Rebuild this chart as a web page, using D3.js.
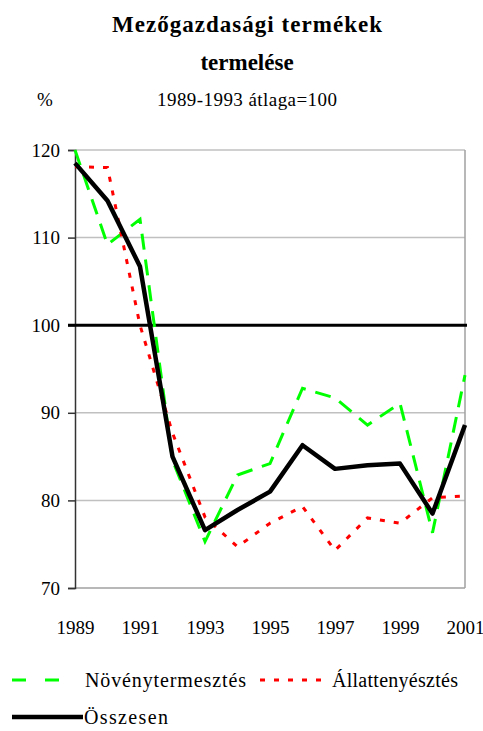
<!DOCTYPE html>
<html>
<head>
<meta charset="utf-8">
<script src="https://cdn.jsdelivr.net/npm/d3@7"></script>
<style>
  body { margin: 0; background: #fff; }
  svg text { font-family: "Times New Roman", "Liberation Serif", Tinos, "DejaVu Serif", "Noto Serif", serif !important; fill: #000; }
</style>
</head>
<body>
<div id="chart"></div>
<script>
// data
var years = [1989, 1990, 1991, 1992, 1993, 1994, 1995, 1996, 1997, 1998, 1999, 2000, 2001];
var novenyValues = [120, 109.2, 112.1, 84.6, 75.3, 82.9, 84.2, 92.8, 91.7, 88.6, 91.1, 76.3, 94.3];
var allatValues = [118.1, 118, 100, 87.7, 78.1, 74.7, 77.4, 79.3, 74.3, 78, 77.4, 80.3, 80.5];
var osszesenValues = [118.5, 114.2, 106.7, 85, 76.6, 78.9, 81, 86.3, 83.6, 84, 84.2, 78.5, 88.6];
var yTicks = [70, 80, 90, 100, 110, 120];
var xTickYears = [1989, 1991, 1993, 1995, 1997, 1999, 2001];
var refValue = 100;

var width = 483, height = 731;
var margin = {top: 150, right: 18, bottom: 143, left: 75};

var svg = d3.select("#chart").append("svg")
    .attr("width", width)
    .attr("height", height);

var x = d3.scaleLinear()
    .domain([1989, 2001])
    .range([margin.left, width - margin.right]);

var y = d3.scaleLinear()
    .domain([70, 120])
    .range([height - margin.bottom, margin.top]);

// titles
svg.append("text").attr("x", 247).attr("y", 32)
    .attr("text-anchor", "middle").style("font-size", "23px").style("font-weight", "bold")
    .attr("textLength", 270)
    .text("Mezőgazdasági termékek");
svg.append("text").attr("x", 247).attr("y", 70)
    .attr("text-anchor", "middle").style("font-size", "23px").style("font-weight", "bold")
    .text("termelése");
svg.append("text").attr("x", 247).attr("y", 106)
    .attr("text-anchor", "middle").style("font-size", "19px")
    .attr("textLength", 180)
    .text("1989-1993 átlaga=100");
svg.append("text").attr("x", 45).attr("y", 106)
    .attr("text-anchor", "middle").style("font-size", "19px")
    .text("%");

// grid lines
svg.append("g").selectAll("line")
    .data(yTicks.filter(function (d) { return d !== 70 && d !== refValue; }))
    .enter().append("line")
    .attr("x1", x(1989)).attr("x2", x(2001))
    .attr("y1", function (d) { return y(d); })
    .attr("y2", function (d) { return y(d); })
    .attr("stroke", "#c0c0c0")
    .attr("stroke-width", 1.5);

// right border + bottom
svg.append("line")
    .attr("x1", x(2001)).attr("x2", x(2001))
    .attr("y1", y(120)).attr("y2", y(70))
    .attr("stroke", "#a0a0a0").attr("stroke-width", 1.5);
svg.append("line")
    .attr("x1", x(1989)).attr("x2", x(2001))
    .attr("y1", y(70)).attr("y2", y(70))
    .attr("stroke", "#a0a0a0").attr("stroke-width", 1.5);

// y axis
var yAxis = svg.append("g")
    .attr("transform", "translate(" + x(1989) + ",0)")
    .call(d3.axisLeft(y).tickValues(yTicks).tickSize(7).tickPadding(8).tickFormat(d3.format("d")));
yAxis.attr("font-family", null);
yAxis.select(".domain").attr("stroke", "#333").attr("stroke-width", 1.5);
yAxis.selectAll(".tick line").attr("stroke", "#333").attr("stroke-width", 1.5);
yAxis.selectAll("text").style("font-size", "19px");

// x axis labels (no ticks)
var xAxis = svg.append("g")
    .attr("transform", "translate(0," + y(70) + ")")
    .call(d3.axisBottom(x).tickValues(xTickYears).tickSize(0).tickPadding(33).tickFormat(d3.format("d")));
xAxis.attr("font-family", null);
xAxis.select(".domain").remove();
xAxis.selectAll("text").style("font-size", "19px");

// 100 reference line
svg.append("line")
    .attr("x1", x(1989) - 7).attr("x2", x(2001) + 2)
    .attr("y1", y(refValue)).attr("y2", y(refValue))
    .attr("stroke", "#000").attr("stroke-width", 3);

var line = d3.line()
    .x(function (d, i) { return x(years[i]); })
    .y(function (d) { return y(d); });

svg.append("path").datum(novenyValues)
    .attr("d", line).attr("fill", "none")
    .attr("stroke", "#00ff00").attr("stroke-width", 3)
    .attr("stroke-dasharray", "16,10");

svg.append("path").datum(allatValues)
    .attr("d", line).attr("fill", "none")
    .attr("stroke", "#ff0000").attr("stroke-width", 3)
    .attr("stroke-dasharray", "5,9");

svg.append("path").datum(osszesenValues)
    .attr("d", line).attr("fill", "none")
    .attr("stroke", "#000").attr("stroke-width", 4.5)
    .attr("stroke-linejoin", "round");

// legend
var legend = svg.append("g");
legend.append("line").attr("x1", 12).attr("x2", 72).attr("y1", 680).attr("y2", 680)
    .attr("stroke", "#00ff00").attr("stroke-width", 3).attr("stroke-dasharray", "14,19");
legend.append("text").attr("x", 85).attr("y", 687).style("font-size", "20px")
    .attr("textLength", 161).text("Növénytermesztés");
legend.append("line").attr("x1", 260).attr("x2", 324).attr("y1", 680).attr("y2", 680)
    .attr("stroke", "#ff0000").attr("stroke-width", 3).attr("stroke-dasharray", "5,9");
legend.append("text").attr("x", 332).attr("y", 687).style("font-size", "20px")
    .attr("textLength", 126).text("Állattenyésztés");
legend.append("line").attr("x1", 12).attr("x2", 83).attr("y1", 717).attr("y2", 717)
    .attr("stroke", "#000").attr("stroke-width", 4.5);
legend.append("text").attr("x", 84).attr("y", 724).style("font-size", "20px")
    .attr("textLength", 84).text("Összesen");
</script>
</body>
</html>
